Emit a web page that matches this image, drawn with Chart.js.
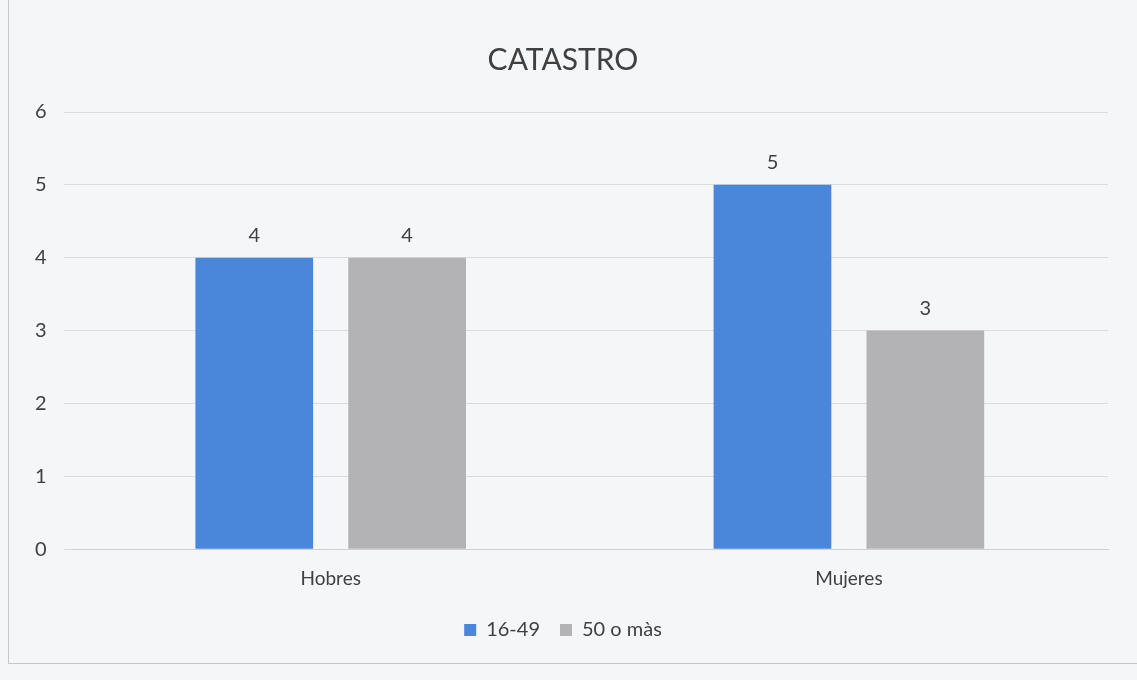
<!DOCTYPE html>
<html>
<head>
<meta charset="utf-8">
<script src="https://cdn.jsdelivr.net/npm/chart.js@4/dist/chart.umd.min.js"></script>
<style>
  html, body { margin: 0; padding: 0; background: #f5f6f8; }
  #frame {
    position: absolute; left: 8px; top: -2px; width: 1140px; height: 666px;
    border: 1px solid #c8c8c8; box-sizing: border-box;
  }
  #wrap { position: absolute; left: 0; top: 0; width: 1137px; height: 680px; }
</style>
</head>
<body>
<div id="frame"></div>
<div id="wrap"><canvas id="chart"></canvas></div>
<script>
const categories = ["Hobres", "Mujeres"];
const young = [4, 5];
const older = [4, 3];
const seriesNames = ["16-49", "50 o màs"];

const valueLabels = {
  id: "valueLabels",
  afterDatasetsDraw(chart) {
    const ctx = chart.ctx;
    ctx.save();
    ctx.font = "20px Lato";
    ctx.fillStyle = "#404040";
    ctx.textAlign = "center";
    ctx.textBaseline = "bottom";
    chart.data.datasets.forEach((ds, i) => {
      chart.getDatasetMeta(i).data.forEach((bar, j) => {
        ctx.fillText(ds.data[j], bar.x, bar.y - 12);
      });
    });
    ctx.restore();
  },
};

new Chart(document.getElementById("chart"), {
  type: "bar",
  data: {
    labels: categories,
    datasets: [
      { label: seriesNames[0], data: young, backgroundColor: "#4a87da" },
      { label: seriesNames[1], data: older, backgroundColor: "#b3b3b5" },
    ],
  },
  options: {
    responsive: true,
    maintainAspectRatio: false,
    animation: false,
    layout: { padding: { left: 18, right: 29, top: 0, bottom: 30 } },
    plugins: {
      title: {
        display: true,
        text: "CATASTRO",
        color: "#404040",
        font: { family: "Lato", size: 30, weight: "normal" },
        padding: { top: 42, bottom: 34 },
      },
      legend: {
        position: "bottom",
        labels: {
          color: "#404040",
          font: { family: "Lato", size: 20 },
          boxWidth: 12,
          boxHeight: 12,
          padding: 20,
        },
      },
      tooltip: { enabled: false },
    },
    datasets: {
      bar: { categoryPercentage: 0.59, barPercentage: 0.77 },
    },
    scales: {
      x: {
        grid: { display: false },
        border: { color: "#d0d0d0" },
        ticks: { color: "#404040", font: { family: "Lato", size: 19 }, padding: 10 },
      },
      y: {
        min: 0,
        max: 6,
        grid: { color: "#dcdcdc" },
        border: { display: false },
        ticks: { stepSize: 1, color: "#404040", font: { family: "Lato", size: 20 }, padding: 17 },
      },
    },
  },
  plugins: [valueLabels],
});
</script>
</body>
</html>
